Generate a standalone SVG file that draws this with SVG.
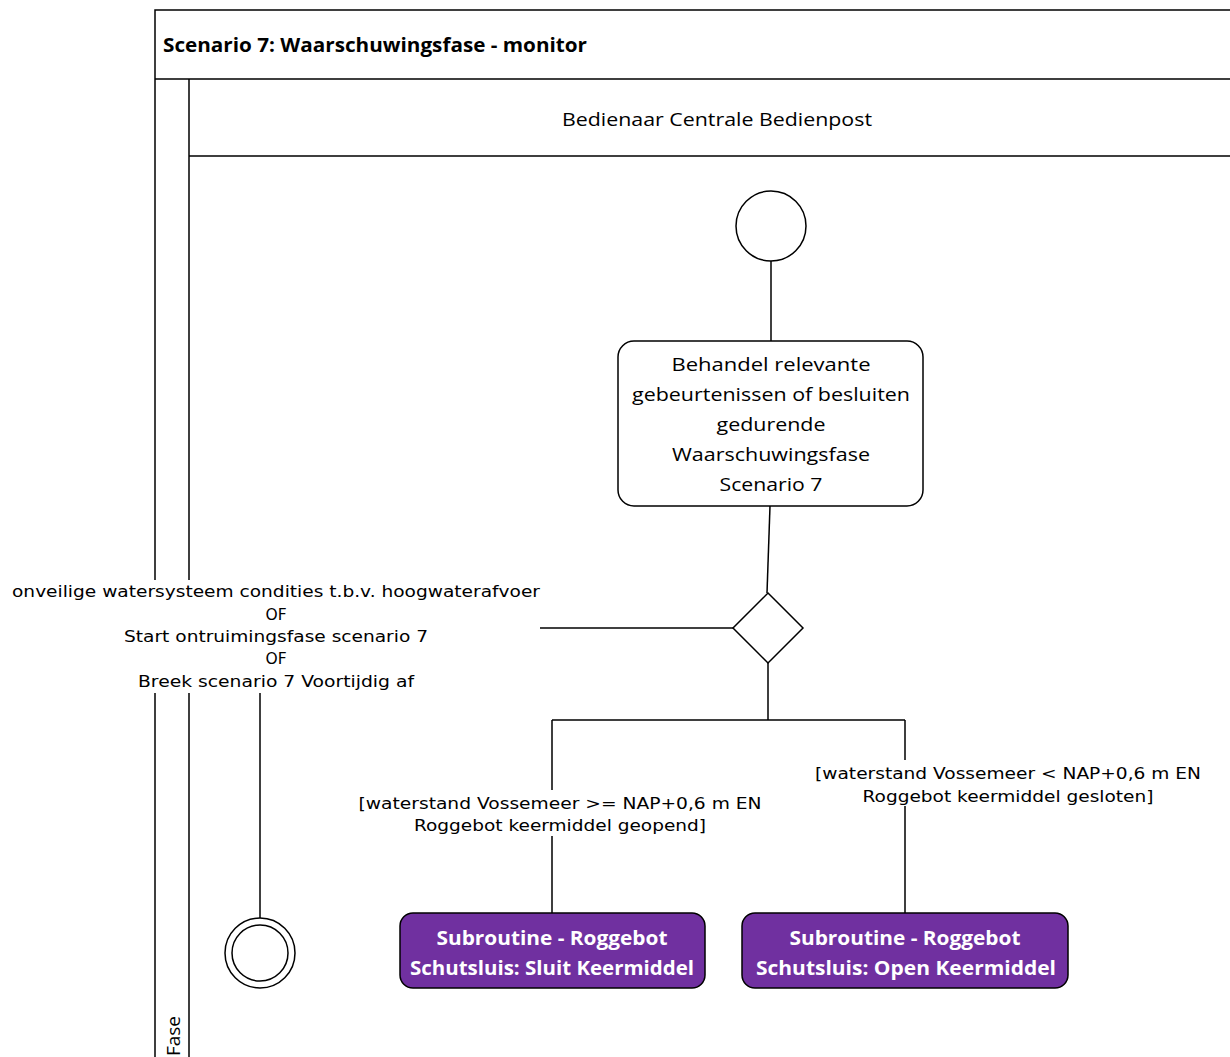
<svg xmlns="http://www.w3.org/2000/svg" width="1230" height="1057" viewBox="0 0 1230 1057">
<style>
.ln{stroke:#000;stroke-width:1.5;fill:none}
.frame{stroke:#000;stroke-width:1.5;fill:none}
.cal{font-family:"Open Sans","Liberation Sans",sans-serif;font-size:19px;fill:#000;text-anchor:middle}
.calb{font-family:"Open Sans","Liberation Sans",sans-serif;font-size:19px;font-weight:bold;fill:#fff;text-anchor:middle}
.ver{font-family:"DejaVu Sans","Liberation Sans",sans-serif;font-size:15.5px;fill:#000;text-anchor:middle}
.node{fill:#fff;stroke:#000;stroke-width:1.5}
.sub{fill:#7030A0;stroke:#000;stroke-width:1.5}
</style>
<rect width="1230" height="1057" fill="#fff"/>
<g id="frame">
  <path class="frame" d="M155,1057 V693 M155,580 V10 H1230 M155,79 H1230 M189,1057 V693 M189,580 V79 M189,156 H1230"/>
  <text x="163" y="52" font-family="'Open Sans','Liberation Sans',sans-serif" font-size="19" font-weight="bold" textLength="424" lengthAdjust="spacingAndGlyphs">Scenario 7: Waarschuwingsfase - monitor</text>
  <text class="cal" x="717" y="126" textLength="310" lengthAdjust="spacingAndGlyphs">Bedienaar Centrale Bedienpost</text>
  <text class="cal" transform="translate(180,1056) rotate(-90)" style="text-anchor:start" textLength="40" lengthAdjust="spacingAndGlyphs">Fase</text>
</g>
<g id="connectors">
  <path class="ln" d="M771,261 V341"/>
  <path class="ln" d="M770,506 L767,593"/>
  <path class="ln" d="M733,628 H540"/>
  <path class="ln" d="M260,693 V918"/>
  <path class="ln" d="M768,663 V720 M552,720 H905 M552,720 V790 M552,836 V913 M905,720 V760 M905,806 V913"/>
  <g id="label-exit">
    <text class="ver" x="276" y="597" textLength="528" lengthAdjust="spacingAndGlyphs">onveilige watersysteem condities t.b.v. hoogwaterafvoer</text>
    <text class="ver" x="276" y="620">OF</text>
    <text class="ver" x="276" y="642" textLength="304" lengthAdjust="spacingAndGlyphs">Start ontruimingsfase scenario 7</text>
    <text class="ver" x="276" y="664">OF</text>
    <text class="ver" x="276" y="687" textLength="276" lengthAdjust="spacingAndGlyphs">Breek scenario 7 Voortijdig af</text>
  </g>
  <g id="label-left">
    <text class="ver" x="560" y="809" textLength="403" lengthAdjust="spacingAndGlyphs">[waterstand Vossemeer &gt;= NAP+0,6 m EN</text>
    <text class="ver" x="560" y="831" textLength="292" lengthAdjust="spacingAndGlyphs">Roggebot keermiddel geopend]</text>
  </g>
  <g id="label-right">
    <text class="ver" x="1008" y="779" textLength="386" lengthAdjust="spacingAndGlyphs">[waterstand Vossemeer &lt; NAP+0,6 m EN</text>
    <text class="ver" x="1008" y="802" textLength="291" lengthAdjust="spacingAndGlyphs">Roggebot keermiddel gesloten]</text>
  </g>
</g>
<g id="start">
  <circle class="node" cx="771" cy="226" r="35"/>
</g>
<g id="behandel">
  <rect class="node" x="618" y="341" width="305" height="165" rx="16"/>
  <text class="cal" x="771" y="371" textLength="199" lengthAdjust="spacingAndGlyphs">Behandel  relevante</text>
  <text class="cal" x="771" y="401" textLength="278" lengthAdjust="spacingAndGlyphs">gebeurtenissen of besluiten</text>
  <text class="cal" x="771" y="431" textLength="109" lengthAdjust="spacingAndGlyphs">gedurende</text>
  <text class="cal" x="771" y="461" textLength="198" lengthAdjust="spacingAndGlyphs">Waarschuwingsfase</text>
  <text class="cal" x="771" y="491" textLength="103" lengthAdjust="spacingAndGlyphs">Scenario 7</text>
</g>
<g id="decision">
  <polygon class="node" points="768,593 803,628 768,663 733,628"/>
</g>
<g id="final">
  <circle class="node" cx="260" cy="953" r="35"/>
  <circle class="node" cx="260" cy="953" r="28"/>
</g>
<g id="sluit">
  <rect class="sub" x="400" y="913" width="305" height="75" rx="13"/>
  <text class="calb" x="552" y="945" textLength="231" lengthAdjust="spacingAndGlyphs">Subroutine - Roggebot</text>
  <text class="calb" x="552" y="975" textLength="284" lengthAdjust="spacingAndGlyphs">Schutsluis: Sluit Keermiddel</text>
</g>
<g id="open">
  <rect class="sub" x="742" y="913" width="326" height="75" rx="13"/>
  <text class="calb" x="905" y="945" textLength="231" lengthAdjust="spacingAndGlyphs">Subroutine - Roggebot</text>
  <text class="calb" x="906" y="975" textLength="300" lengthAdjust="spacingAndGlyphs">Schutsluis: Open  Keermiddel</text>
</g>
</svg>
